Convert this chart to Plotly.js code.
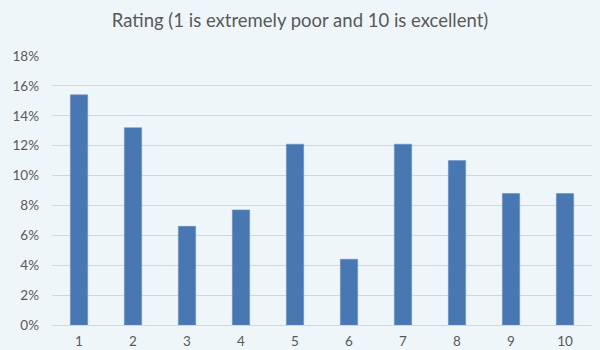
<!DOCTYPE html>
<html>
<head>
<meta charset="utf-8">
<script src="https://cdn.plot.ly/plotly-3.0.1.min.js"></script>
<style>html,body{margin:0;padding:0;background:#EEF6FA;}#chart{width:600px;height:350px;}</style>
</head>
<body>
<div id="chart"></div>
<script>
const categories = ['1','2','3','4','5','6','7','8','9','10'];
const values = [0.154, 0.132, 0.066, 0.077, 0.121, 0.044, 0.121, 0.110, 0.088, 0.088];
const yTickVals = [0, 0.02, 0.04, 0.06, 0.08, 0.10, 0.12, 0.14, 0.16, 0.18];
const yTickText = ['0%','2%','4%','6%','8%','10%','12%','14%','16%','18%'];

Plotly.newPlot('chart', [{
  type: 'bar',
  x: categories,
  y: values,
  marker: {color: '#4877B1', line: {color: '#5C8BC4', width: 0.5}},
  hoverinfo: 'none'
}], {
  width: 600, height: 350,
  paper_bgcolor: '#EEF6FA', plot_bgcolor: '#EEF6FA',
  margin: {l: 52, r: 8, t: 56, b: 25},
  bargap: 0.68,
  showlegend: false,
  font: {family: 'Lato, "Open Sans", sans-serif', color: '#595959'},
  title: {text: 'Rating (1 is extremely poor and 10 is excellent)', font: {size: 18.5, color: '#595959'}, x: 0.5, xanchor: 'center', y: 0.94, yanchor: 'middle'},
  xaxis: {type: 'category', showgrid: false, showline: false, zeroline: false, ticks: '', tickfont: {size: 13.5, color: '#595959'}, ticklabelstandoff: 6},
  yaxis: {range: [0, 0.18], tickvals: yTickVals, ticktext: yTickText, showgrid: true, gridcolor: '#D0D7DB', gridwidth: 1, zeroline: true, zerolinecolor: '#D0D7DB', zerolinewidth: 1, showline: false, ticks: '', tickfont: {size: 13.5, color: '#595959'}, ticklabelstandoff: 12}
}, {staticPlot: true});
</script>
</body>
</html>
